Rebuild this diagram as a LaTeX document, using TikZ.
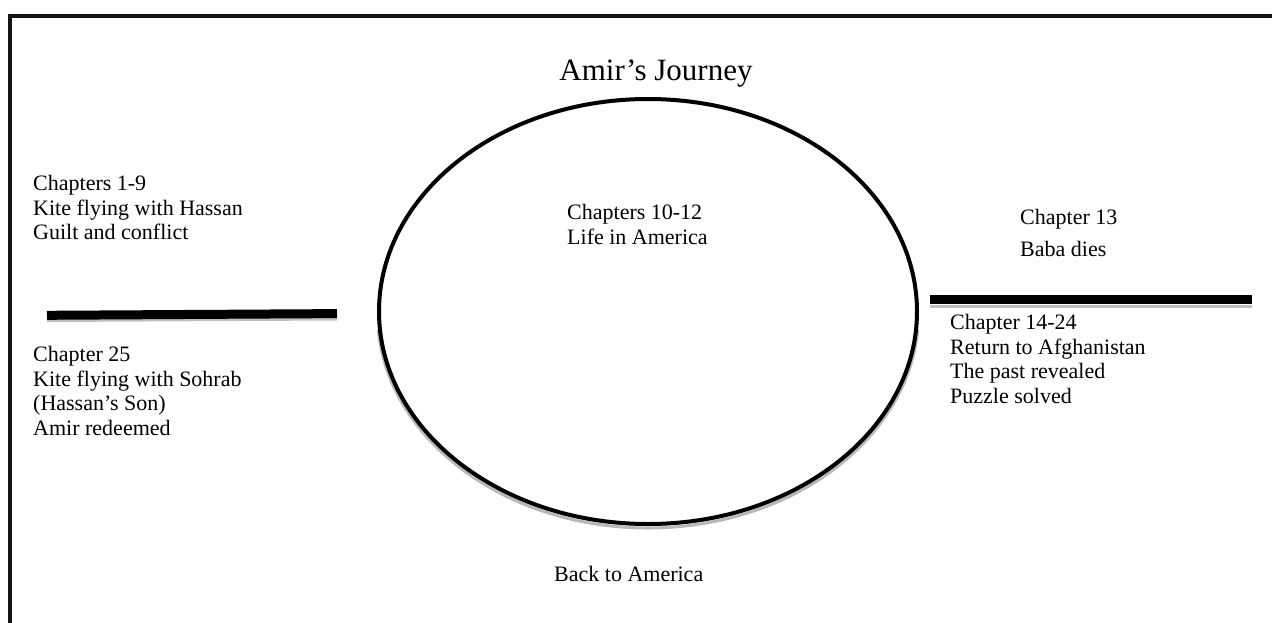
\documentclass[tikz,border=0pt]{standalone}
\usepackage{fontspec}
\setmainfont{Liberation Serif}
\usetikzlibrary{shapes.geometric}
\begin{document}
\begin{tikzpicture}[x=1pt,y=-1pt,
  body/.style={anchor=north west,align=left,inner sep=0pt,font=\fontsize{22}{24.6}\selectfont},
  bar/.style={line width=9pt,black},
  barshadow/.style={line width=3pt,black!25},
  oval/.style={ellipse,draw=black,line width=4pt,minimum width=538pt,minimum height=425pt,inner sep=0pt}]
\useasboundingbox (0,0) rectangle (1272,622);
\clip (0,0) rectangle (1272,622);
% frame
\draw[line width=4pt,black!92] (10.3,660) -- (10.3,16) -- (1300,16);
% ellipse shadow (lower part only)
\begin{scope}
\clip (300,330) rectangle (1000,560);
\node[ellipse,draw=black!28,line width=3pt,minimum width=541pt,minimum height=429pt,inner sep=0pt] (ovshadow) at (648,313.5) {};
\end{scope}
\node[oval] (journey) at (648,311.5) {};
% bars
\coordinate (lbA) at (47,320.5);
\coordinate (lbB) at (337,319);
\draw[barshadow] (lbA) -- (lbB);
\coordinate (la) at (47,315.3);
\coordinate (lb) at (337,313.6);
\draw[bar] (la) -- (lb);
\coordinate (rbA) at (930,306);
\coordinate (rbB) at (1252,306);
\draw[barshadow] (rbA) -- (rbB);
\coordinate (ra) at (930,299.7);
\coordinate (rb) at (1252,299.7);
\draw[bar] (ra) -- (rb);
% texts
\node[anchor=base,inner sep=0pt,font=\fontsize{31}{35}\selectfont] (title) at (656,80) {Amir’s Journey};
\node[body] (ch19) at (33,175) {Chapters 1-9\\Kite flying with Hassan\\Guilt and conflict};
\node[body] (ch25) at (33,346) {Chapter 25\\Kite flying with Sohrab\\(Hassan’s Son)\\Amir redeemed};
\node[body] (ch1012) at (567,204) {Chapters 10-12\\Life in America};
\node[body] (ch13) at (1020,209) {Chapter 13};
\node[body] (baba) at (1020,241) {Baba dies};
\node[body] (ch1424) at (950,314) {Chapter 14-24\\Return to Afghanistan\\The past revealed\\Puzzle solved};
\node[body] (back) at (554,566) {Back to America};
\end{tikzpicture}
\end{document}
